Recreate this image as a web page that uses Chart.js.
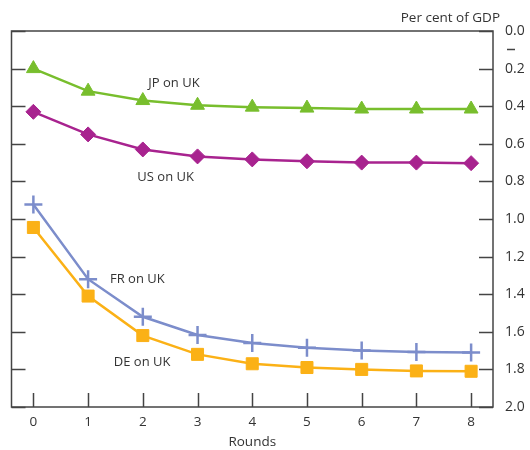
<!DOCTYPE html>
<html>
<head>
<meta charset="utf-8">
<script src="https://cdn.jsdelivr.net/npm/chart.js@4"></script>
<style>
  html, body { margin: 0; padding: 0; background: #fff; }
  #wrap { width: 530px; height: 450px; }
</style>
</head>
<body>
<div id="wrap"><canvas id="chart" width="530" height="450"></canvas></div>
<script>
// rounds on the x axis
var rounds = [0, 1, 2, 3, 4, 5, 6, 7, 8];
// per cent of GDP
var jpOnUk = [0.20, 0.32, 0.37, 0.395, 0.405, 0.41, 0.415, 0.415, 0.415];
var usOnUk = [0.43, 0.55, 0.63, 0.667, 0.683, 0.693, 0.70, 0.70, 0.703];
var frOnUk = [0.923, 1.32, 1.52, 1.617, 1.66, 1.685, 1.70, 1.707, 1.71];
var deOnUk = [1.045, 1.41, 1.62, 1.72, 1.77, 1.79, 1.80, 1.808, 1.81];
var yTicks = [0, 0.2, 0.4, 0.6, 0.8, 1.0, 1.2, 1.4, 1.6, 1.8, 2.0];

// labels placed next to the lines (x in rounds, y in per cent)
var seriesLabels = [
    { text: 'JP on UK', x: 2.1, y: 0.277 },
    { text: 'US on UK', x: 1.9, y: 0.78 },
    { text: 'FR on UK', x: 1.4, y: 1.323 },
    { text: 'DE on UK', x: 1.47, y: 1.76 }
];

var font = '"Open Sans", "Liberation Sans", sans-serif';
var textColor = '#333';
var axisColor = '#444';

function toPoints(vals) {
    return vals.map(function (v, i) { return { x: rounds[i], y: v }; });
}

function series(label, vals, color, style, radius, extra) {
    var ds = {
        label: label,
        data: toPoints(vals),
        borderColor: color,
        backgroundColor: color,
        pointBackgroundColor: color,
        pointBorderColor: color,
        borderWidth: 2.5,
        pointStyle: style,
        pointRadius: radius,
        pointHoverRadius: radius,
        pointBorderWidth: 1,
        tension: 0
    };
    for (var k in extra) ds[k] = extra[k];
    return ds;
}

// frame, inward ticks and text
var decor = {
    id: 'decor',
    afterDraw: function (chart) {
        var ctx = chart.ctx;
        var a = chart.chartArea;
        var xs = chart.scales.x;
        var ys = chart.scales.y;
        ctx.save();
        ctx.strokeStyle = axisColor;
        ctx.lineWidth = 1.5;
        ctx.strokeRect(a.left, a.top, a.right - a.left, a.bottom - a.top);
        ctx.beginPath();
        yTicks.forEach(function (t) {
            var py = Math.round(ys.getPixelForValue(t)) + 0.5;
            ctx.moveTo(a.left, py); ctx.lineTo(a.left + 14, py);
            ctx.moveTo(a.right, py); ctx.lineTo(a.right - 14, py);
        });
        rounds.forEach(function (r) {
            var px = Math.round(xs.getPixelForValue(r)) + 0.5;
            ctx.moveTo(px, a.bottom); ctx.lineTo(px, a.bottom - 14);
        });
        // small dash under the 0.0 label, as in the original
        ctx.moveTo(a.right + 14, 49.5); ctx.lineTo(a.right + 22, 49.5);
        ctx.stroke();

        ctx.fillStyle = textColor;
        ctx.font = '13.5px ' + font;
        ctx.textAlign = 'right';
        ctx.textBaseline = 'alphabetic';
        ctx.fillText('Per cent of GDP', 500, 22);

        ctx.font = '13px ' + font;
        ctx.textAlign = 'left';
        ctx.textBaseline = 'middle';
        seriesLabels.forEach(function (l) {
            ctx.fillText(l.text, xs.getPixelForValue(l.x), ys.getPixelForValue(l.y));
        });
        ctx.restore();
    }
};

var chartObject = {
    type: 'line',
    data: {
        datasets: [
            series('JP on UK', jpOnUk, '#78BE2D', 'triangle', 8),
            series('US on UK', usOnUk, '#A8238F', 'rectRot', 7.5),
            series('FR on UK', frOnUk, '#7C8DCB', 'cross', 9, { pointBorderWidth: 2.5 }),
            series('DE on UK', deOnUk, '#FBB116', 'rect', 8.5)
        ]
    },
    options: {
        responsive: false,
        animation: false,
        layout: { padding: { left: 10, top: 31, right: 0, bottom: 0 } },
        plugins: {
            legend: { display: false },
            tooltip: { enabled: false }
        },
        scales: {
            x: {
                type: 'linear',
                min: -0.4,
                max: 8.4,
                grid: { display: false, drawTicks: false },
                border: { display: false },
                afterBuildTicks: function (s) {
                    s.ticks = rounds.map(function (r) { return { value: r }; });
                },
                afterFit: function (s) { s.height = 43; },
                ticks: {
                    color: textColor,
                    font: { family: font, size: 13.5 },
                    padding: 7,
                    maxRotation: 0
                },
                title: {
                    display: true,
                    text: 'Rounds',
                    color: textColor,
                    font: { family: font, size: 13.5 },
                    padding: { top: 2, bottom: 0 }
                }
            },
            y: {
                position: 'right',
                reverse: true,
                min: 0,
                max: 2,
                grid: { display: false, drawTicks: false },
                border: { display: false },
                afterBuildTicks: function (s) {
                    s.ticks = yTicks.map(function (v) { return { value: v }; });
                },
                afterFit: function (s) { s.width = 37; },
                ticks: {
                    color: textColor,
                    font: { family: font, size: 14 },
                    padding: 12,
                    callback: function (v) { return v.toFixed(1); }
                }
            }
        }
    },
    plugins: [decor]
};

var chart = new Chart(document.getElementById('chart'), chartObject);
</script>
</body>
</html>
